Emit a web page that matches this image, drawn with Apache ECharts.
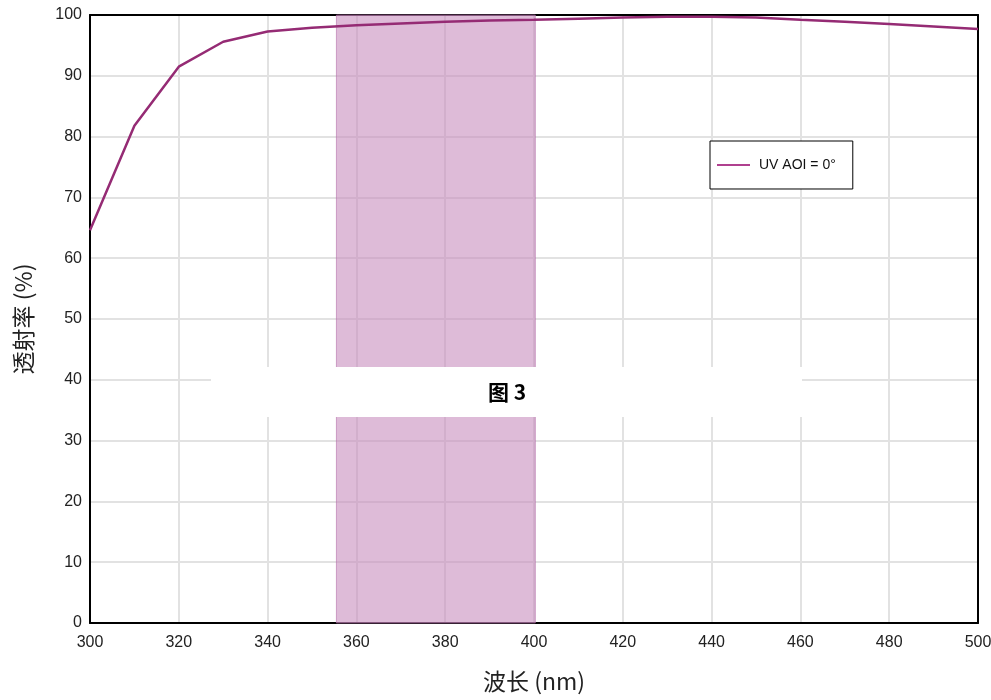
<!DOCTYPE html>
<html>
<head>
<meta charset="utf-8">
<script src="https://cdn.jsdelivr.net/npm/echarts@6/dist/echarts.min.js"></script>
<style>html,body{margin:0;padding:0;background:#fff}#c{width:991px;height:700px}</style>
</head>
<body>
<div id="c"></div>
<script>
var wavelengths = [300,310,320,330,340,350,360,370,380,390,400,410,420,430,440,450,460,470,480,490,500];
var transmission = [64.6,81.8,91.5,95.6,97.3,97.9,98.3,98.6,98.9,99.1,99.2,99.4,99.6,99.7,99.7,99.6,99.2,98.9,98.5,98.1,97.7];
var bandRange = [355.5, 400.3];
var seriesName = 'UV AOI = 0°';
var xTicks = { min: 300, max: 500, interval: 20 };
var yTicks = { min: 0, max: 100, interval: 10 };
var figureLabel = '图 3';

var chart = echarts.init(document.getElementById('c'));
var font = '"Liberation Sans", Arial, "Noto Sans CJK SC", sans-serif';
var cjk = '"Noto Sans CJK SC", "Liberation Sans", sans-serif';
var frameAxis = {
  axisLine: { show: true, onZero: false, lineStyle: { color: '#000', width: 2 } },
  axisTick: { show: false }, axisLabel: { show: false }, splitLine: { show: false }
};
chart.setOption({
  backgroundColor: '#fff',
  animation: false,
  textStyle: { fontFamily: font },
  grid: { left: 90, right: 13, top: 15, bottom: 77, outerBoundsMode: 'none', containLabel: false },
  legend: {
    data: [{ name: seriesName, icon: 'rect' }],
    left: 710, top: 141,
    itemWidth: 33, itemHeight: 2,
    padding: [17, 17, 17, 7],
    borderColor: '#000', borderWidth: 1,
    backgroundColor: '#fff',
    textStyle: { fontSize: 14, color: '#111', fontFamily: font, padding: [0, 0, 0, 4] }
  },
  xAxis: [{
    type: 'value', min: xTicks.min, max: xTicks.max, interval: xTicks.interval,
    name: '波长 (nm)', nameLocation: 'middle', nameGap: 47,
    nameTextStyle: { fontSize: 23, color: '#222', fontFamily: cjk },
    axisLine: { show: true, lineStyle: { color: '#000', width: 2 } },
    axisTick: { show: false },
    axisLabel: { fontSize: 16, color: '#222', margin: 12 },
    splitLine: { show: true, lineStyle: { color: '#e2e2e2', width: 2 } }
  }, Object.assign({ type: 'value', position: 'top', min: xTicks.min, max: xTicks.max }, frameAxis)],
  yAxis: [{
    type: 'value', min: yTicks.min, max: yTicks.max, interval: yTicks.interval,
    name: '透射率 (%)', nameLocation: 'middle', nameGap: 55, nameRotate: 90,
    nameTextStyle: { fontSize: 23, color: '#222', fontFamily: cjk },
    axisLine: { show: true, lineStyle: { color: '#000', width: 2 } },
    axisTick: { show: false },
    axisLabel: { fontSize: 16, color: '#222', margin: 8 },
    splitLine: { show: true, lineStyle: { color: '#e2e2e2', width: 2 } }
  }, Object.assign({ type: 'value', position: 'right', min: yTicks.min, max: yTicks.max }, frameAxis)],
  series: [{
    name: seriesName,
    type: 'line',
    data: wavelengths.map(function (w, i) { return [w, transmission[i]]; }),
    showSymbol: false,
    lineStyle: { color: '#952b74', width: 2.5 },
    itemStyle: { color: '#b0408f' },
    z: 5,
    markArea: {
      silent: true,
      itemStyle: { color: 'rgba(198,138,188,0.58)', borderColor: 'rgba(180,110,170,0.6)', borderWidth: 1 },
      data: [[{ xAxis: bandRange[0] }, { xAxis: bandRange[1] }]]
    }
  }],
  graphic: [
    { type: 'rect', left: 211, top: 367, shape: { width: 591, height: 50 }, style: { fill: '#fff' }, z: 100 },
    { type: 'text', x: 507, y: 392, style: { text: figureLabel, fill: '#000', font: 'bold 21px "Noto Sans CJK SC", "Liberation Sans", sans-serif', textAlign: 'center', textVerticalAlign: 'middle' }, z: 101 }
  ]
});
</script>
</body>
</html>
